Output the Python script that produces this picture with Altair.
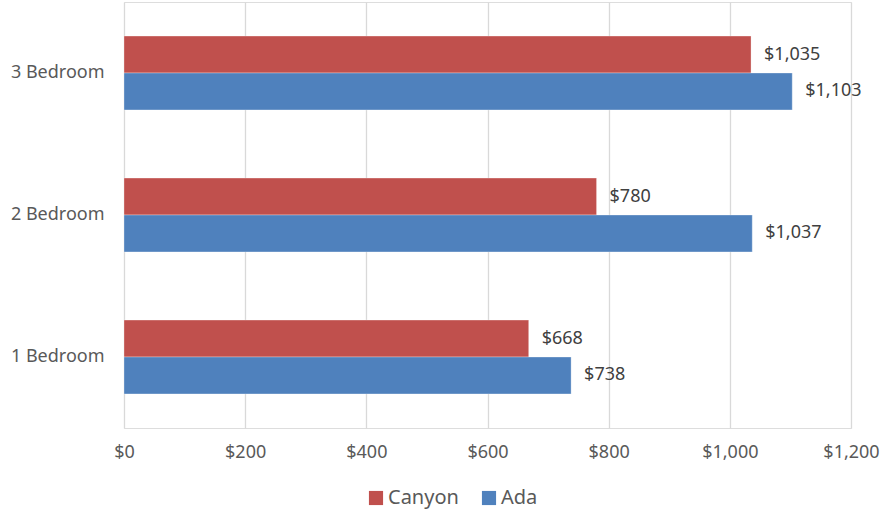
import altair as alt
import pandas as pd

categories = ["3 Bedroom", "2 Bedroom", "1 Bedroom"]
series = ["Canyon", "Ada"]
canyon = [1035, 780, 668]
ada = [1103, 1037, 738]
colors = ["#C0504D", "#4F81BD"]
x_ticks = [0, 200, 400, 600, 800, 1000, 1200]

rows = []
for c, v in zip(categories, canyon):
    rows.append({"cat": c, "series": "Canyon", "value": v})
for c, v in zip(categories, ada):
    rows.append({"cat": c, "series": "Ada", "value": v})
df = pd.DataFrame(rows)

FONT = "Noto Sans"

y_enc = alt.Y("cat:N", sort=categories, title=None,
              scale=alt.Scale(paddingInner=0.48, paddingOuter=0.24),
              axis=alt.Axis(labelFontSize=18, labelColor="#595959", labelFont=FONT,
                            labelPadding=20, ticks=False, domain=False, grid=False))
yoff = alt.YOffset("series:N", sort=series, scale=alt.Scale(paddingInner=0, paddingOuter=0))
x_enc = alt.X("value:Q", title=None,
              scale=alt.Scale(domain=[0, 1200], nice=False),
              axis=alt.Axis(values=x_ticks, format="$,.0f", labelFontSize=18,
                            labelColor="#595959", labelFont=FONT, labelPadding=15,
                            labelFlush=False, labelOverlap=False,
                            ticks=False, domain=False, grid=True, gridColor="#D9D9D9",
                            gridWidth=1.3))

bars = alt.Chart(df).mark_bar(stroke="white", strokeWidth=0.6, strokeOpacity=0.5).encode(
    x=x_enc, y=y_enc, yOffset=yoff,
    color=alt.Color("series:N", sort=series,
                    scale=alt.Scale(domain=series, range=colors),
                    legend=alt.Legend(title=None, orient="none", direction="horizontal",
                                      legendX=242, legendY=486, symbolType="square",
                                      symbolSize=200, symbolStrokeWidth=0, labelFontSize=20,
                                      labelFont=FONT, labelColor="#595959", columnPadding=20,
                                      labelOffset=2))
)

labels = alt.Chart(df).mark_text(align="left", dx=13, fontSize=18, font=FONT,
                                 color="#404040").encode(
    x="value:Q", y=alt.Y("cat:N", sort=categories), yOffset=alt.YOffset("series:N", sort=series),
    text=alt.Text("value:Q", format="$,.0f")
)

chart = alt.layer(bars, labels).properties(
    width=727, height=426,
    autosize=alt.AutoSizeParams(type="none"),
    padding={"left": 124, "top": 2, "right": 45, "bottom": 90},
).configure_view(stroke=None).configure(background="white")

chart.save("out.html", embed_options={"renderer": "svg", "actions": False})
